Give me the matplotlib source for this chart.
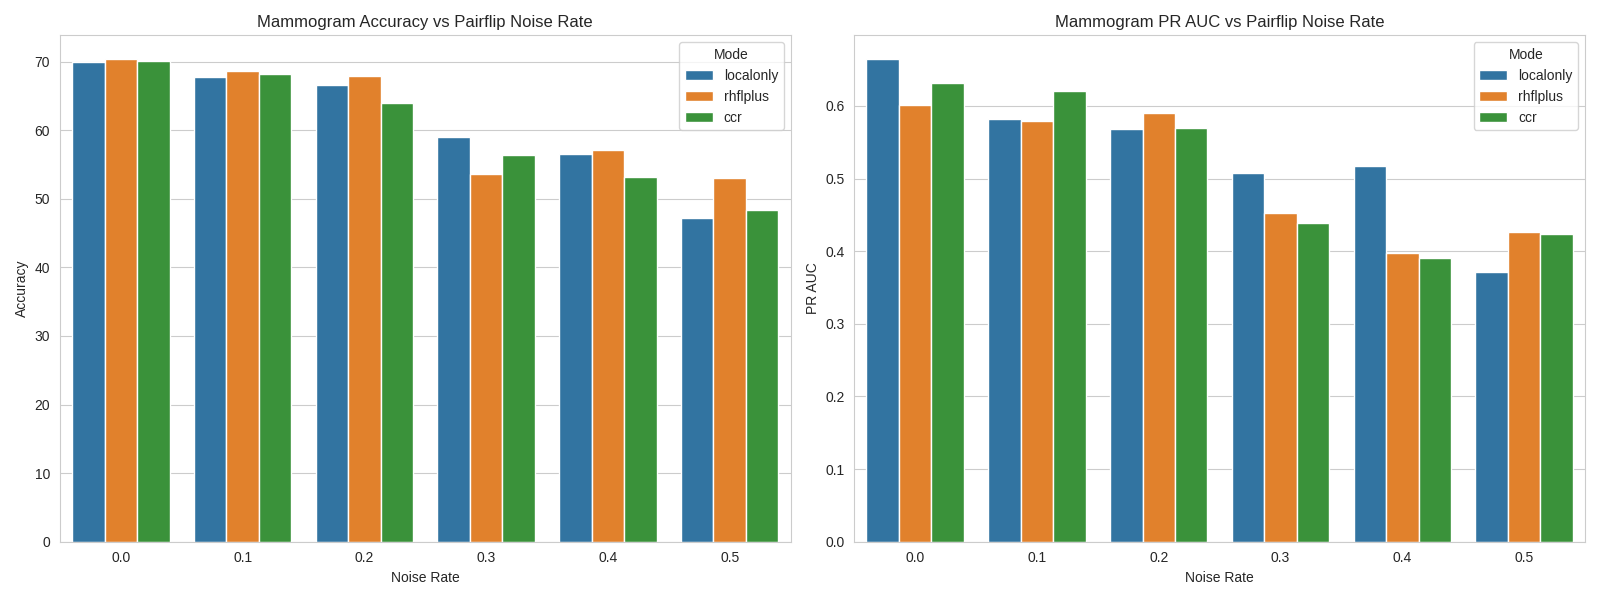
import pandas as pd
import matplotlib
matplotlib.use('Agg')
import matplotlib.pyplot as plt
import seaborn as sns

noise_rates = ['0.0', '0.1', '0.2', '0.3', '0.4', '0.5']
modes = ['localonly', 'rhflplus', 'ccr']

acc_localonly = [70.0, 67.8, 66.6, 59.0, 56.5, 47.2]
acc_rhflplus = [70.3, 68.55, 67.9, 53.6, 57.05, 53.0]
acc_ccr = [70.1, 68.25, 64.0, 56.4, 53.1, 48.4]

prauc_localonly = [0.664, 0.582, 0.568, 0.508, 0.517, 0.371]
prauc_rhflplus = [0.601, 0.579, 0.590, 0.453, 0.398, 0.427]
prauc_ccr = [0.632, 0.620, 0.569, 0.439, 0.391, 0.423]


def build_frame() -> pd.DataFrame:
    rows = []
    acc = {'localonly': acc_localonly, 'rhflplus': acc_rhflplus, 'ccr': acc_ccr}
    pr = {'localonly': prauc_localonly, 'rhflplus': prauc_rhflplus, 'ccr': prauc_ccr}
    for mode in modes:
        for i, nr in enumerate(noise_rates):
            rows.append({'noise_rate': nr, 'mode': mode,
                         'accuracy': acc[mode][i], 'pr_auc': pr[mode][i]})
    return pd.DataFrame(rows)


def main():
    df = build_frame()
    sns.set_style('whitegrid')
    plt.rcParams['font.family'] = ['Liberation Sans', 'DejaVu Sans']
    fig, axes = plt.subplots(1, 2, figsize=(16, 6), dpi=100)

    sns.barplot(data=df, x='noise_rate', y='accuracy', hue='mode', hue_order=modes,
                order=noise_rates, ax=axes[0])
    axes[0].set_title('Mammogram Accuracy vs Pairflip Noise Rate')
    axes[0].set_xlabel('Noise Rate')
    axes[0].set_ylabel('Accuracy')
    axes[0].legend(title='Mode', loc='upper right')

    sns.barplot(data=df, x='noise_rate', y='pr_auc', hue='mode', hue_order=modes,
                order=noise_rates, ax=axes[1])
    axes[1].set_title('Mammogram PR AUC vs Pairflip Noise Rate')
    axes[1].set_xlabel('Noise Rate')
    axes[1].set_ylabel('PR AUC')
    axes[1].legend(title='Mode', loc='upper right')

    plt.tight_layout()
    plt.savefig('out.png')


if __name__ == '__main__':
    main()
